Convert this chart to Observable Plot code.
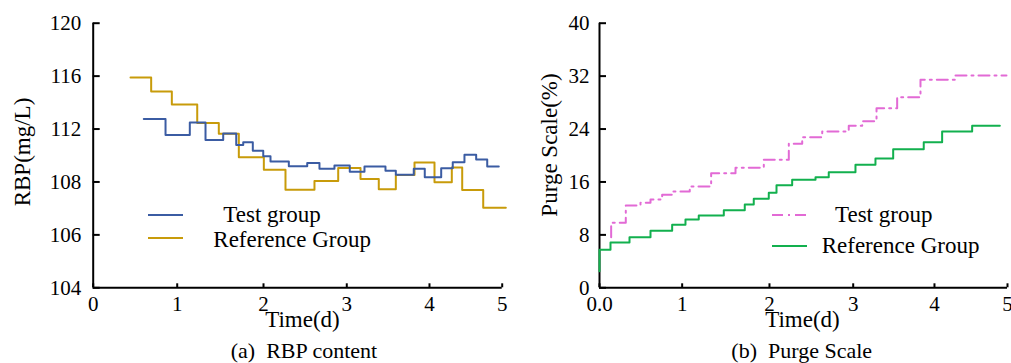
<!DOCTYPE html>
<html><head><meta charset="utf-8">
<script src="https://cdn.jsdelivr.net/npm/d3@7"></script>
<script src="https://cdn.jsdelivr.net/npm/@observablehq/plot@0.6"></script>
<style>
html,body{margin:0;padding:0;background:#fff;}
#root{position:relative;width:1011px;height:363px;overflow:hidden;font-family:"Liberation Serif","Times New Roman",serif;color:#000;}
.abs{position:absolute;white-space:nowrap;line-height:1;}
.chart{position:absolute;top:0;}
.chart svg{overflow:visible;}
</style></head><body><div id="root"></div>
<script>
// ---------- data ----------
const dayTicks = [0, 1, 2, 3, 4, 5];
const rbpDayLabels = ["0", "1", "2", "3", "4", "5"];
const purgeDayLabels = ["0.0", "1", "2", "3", "4", "5"];
const rbpTicks = [104, 106, 108, 112, 116, 120];
const purgeTicks = [0, 8, 16, 24, 32, 40];

// (a) RBP content — step breakpoints (days) and levels (mg/L)
const rbpTestTimes = [0.602, 0.861, 1.146, 1.328, 1.533, 1.684, 1.765, 1.876, 1.997, 2.084, 2.304, 2.525, 2.672, 2.852, 3.036, 3.214, 3.468, 3.593, 3.810, 3.943, 4.161, 4.320, 4.481, 4.642, 4.794, 4.953];
const rbpTestValues = [112.75, 111.55, 112.5, 111.17, 111.67, 110.8, 111.0, 110.36, 109.94, 109.55, 109.19, 109.44, 108.99, 109.24, 108.77, 109.17, 108.84, 108.54, 108.99, 108.35, 109.04, 109.49, 110.05, 109.7, 109.17];
const rbpRefTimes = [0.444, 0.690, 0.936, 1.232, 1.482, 1.714, 2.004, 2.264, 2.612, 2.897, 3.166, 3.387, 3.593, 3.819, 4.069, 4.307, 4.450, 4.739, 5.05];
const rbpRefValues = [115.9, 114.84, 113.85, 112.45, 111.65, 109.86, 108.93, 107.71, 108.07, 109.06, 108.23, 107.72, 108.53, 109.48, 107.99, 109.1, 107.7, 107.03];

// (b) Purge Scale — step breakpoints (days) and levels (%)
const purgeTestTimes = [0.141, 0.141, 0.318, 0.496, 0.617, 0.758, 0.879, 1.087, 1.332, 1.611, 1.935, 2.231, 2.391, 2.630, 2.947, 3.111, 3.287, 3.541, 3.828, 4.288, 4.986];
const purgeTestValues = [7.65, 9.83, 12.44, 12.85, 13.35, 14.06, 14.56, 15.31, 17.32, 18.14, 19.35, 21.77, 22.77, 23.63, 24.49, 25.19, 27.15, 28.81, 31.44, 32.09];
const purgeRefTimes = [0, 0, 0.133, 0.363, 0.617, 0.879, 1.038, 1.190, 1.477, 1.717, 1.820, 1.992, 2.084, 2.271, 2.550, 2.708, 3.028, 3.274, 3.492, 3.868, 4.105, 4.516, 4.895];
const purgeRefValues = [2.5, 5.74, 6.85, 7.65, 8.61, 9.52, 10.33, 10.93, 11.73, 12.59, 13.45, 14.36, 15.51, 16.33, 16.72, 17.48, 18.6, 19.55, 20.95, 22.0, 23.63, 24.49];

const seriesNames = ["Test group", "Reference Group"];
const captions = ["(a)\u00a0\u00a0RBP content", "(b)\u00a0\u00a0Purge Scale"];
const yTitles = ["RBP(mg/L)", "Purge Scale(%)"];
const xTitle = "Time(d)";

// ---------- helpers ----------
function steps(times, values) {
  const pts = values.map((v, i) => ({t: times[i], v}));
  pts.push({t: times[times.length - 1], v: values[values.length - 1]});
  return pts;
}
const FONT = '"Liberation Serif","Times New Roman",serif';
const C = {blue: "#3b5ca3", gold: "#c89b0a", pink: "#e26ad5", green: "#12b04e"};
const root = document.getElementById("root");

// the original axes are unevenly spaced: warp scales piecewise
const rbpWarpY = d3.scaleLinear().domain(rbpTicks).range([0, 1, 2, 3, 4, 5]);
const leftWarpX = d3.scaleLinear().domain(dayTicks).range([0, 1.027, 2.082, 3.100, 4.111, 5]);
const rightWarpX = d3.scaleLinear().domain(dayTicks).range([0, 1.013, 2.083, 3.109, 4.105, 5]);

function axes(yTicks, yMin, dayLabels, yPad) {
  return [
    Plot.axisY(yTicks, {anchor: "left", tickSize: -7, strokeWidth: 2, fill: "none", label: null}),
    Plot.axisY(yTicks, {anchor: "left", tickSize: 0, tickPadding: yPad, label: null, fontSize: 21, tickFormat: d => String(d)}),
    Plot.axisX(dayTicks, {anchor: "bottom", tickSize: -4, strokeWidth: 2, fill: "none", label: null}),
    Plot.axisX(dayTicks, {anchor: "bottom", tickSize: 0, tickPadding: 8, label: null, fontSize: 21, tickFormat: d => dayLabels[dayTicks.indexOf(d)]}),
    Plot.ruleX([0], {strokeWidth: 2}),
    Plot.ruleY([yMin], {strokeWidth: 2})
  ];
}

// ---------- (a) ----------
const left = Plot.plot({
  width: 505, height: 336,
  marginLeft: 92.7, marginRight: 3.3, marginTop: 22.7, marginBottom: 48.7,
  style: {fontFamily: FONT, fontSize: "21px", background: "transparent", color: "#000"},
  x: {type: "linear", domain: [0, 5], transform: leftWarpX},
  y: {type: "linear", domain: [0, 5], transform: rbpWarpY},
  marks: [
    ...axes(rbpTicks, 104, rbpDayLabels, 12),
    Plot.line(steps(rbpRefTimes, rbpRefValues), {x: "t", y: "v", curve: "step-after", stroke: C.gold, strokeWidth: 2}),
    Plot.line(steps(rbpTestTimes, rbpTestValues), {x: "t", y: "v", curve: "step-after", stroke: C.blue, strokeWidth: 2})
  ]
});
const lw = document.createElement("div"); lw.className = "chart"; lw.style.left = "0px"; lw.appendChild(left); root.appendChild(lw);

// ---------- (b) ----------
const right = Plot.plot({
  width: 506, height: 336,
  marginLeft: 94, marginRight: 4, marginTop: 22.7, marginBottom: 48.7,
  style: {fontFamily: FONT, fontSize: "21px", background: "transparent", color: "#000"},
  x: {type: "linear", domain: [0, 5], transform: rightWarpX},
  y: {domain: [0, 40]},
  marks: [
    ...axes(purgeTicks, 0, purgeDayLabels, 10),
    Plot.line(steps(purgeRefTimes, purgeRefValues), {x: "t", y: "v", curve: "step-after", stroke: C.green, strokeWidth: 2}),
    Plot.line(steps(purgeTestTimes, purgeTestValues), {x: "t", y: "v", curve: "step-after", stroke: C.pink, strokeWidth: 2, strokeDasharray: "11,5,2,5"})
  ]
});
const rw = document.createElement("div"); rw.className = "chart"; rw.style.left = "505px"; rw.appendChild(right); root.appendChild(rw);

// ---------- text overlays ----------
function addText(txt, x, top, size, opts = {}) {
  const d = document.createElement("div");
  d.className = "abs"; d.textContent = txt;
  d.style.left = x + "px"; d.style.top = top + "px"; d.style.fontSize = size + "px";
  if (opts.center) d.style.transform = "translateX(-50%)";
  if (opts.rotate) { d.style.transform = "translate(-50%,-50%) rotate(-90deg)"; }
  root.appendChild(d);
  return d;
}
function addSwatch(x1, x2, y, color, dash) {
  const ns = "http://www.w3.org/2000/svg";
  const s = document.createElementNS(ns, "svg");
  s.setAttribute("width", x2 - x1); s.setAttribute("height", 4);
  s.style.position = "absolute"; s.style.left = x1 + "px"; s.style.top = (y - 2) + "px";
  const l = document.createElementNS(ns, "line");
  l.setAttribute("x1", 0); l.setAttribute("x2", x2 - x1); l.setAttribute("y1", 2); l.setAttribute("y2", 2);
  l.setAttribute("stroke", color); l.setAttribute("stroke-width", 2);
  if (dash) l.setAttribute("stroke-dasharray", dash);
  s.appendChild(l); root.appendChild(s);
}

// axis titles
addText(yTitles[0], 22, 152, 23, {rotate: true});
addText(yTitles[1], 549, 145, 23, {rotate: true});
addText(xTitle, 302.5, 307.6, 23, {center: true});
addText(xTitle, 802.5, 307.6, 23, {center: true});
// captions
addText(captions[0], 304, 340, 22, {center: true});
addText(captions[1], 801.7, 340, 22, {center: true});
// legends
addSwatch(148, 183, 215, C.blue);
addSwatch(148, 183, 238, C.gold);
addText(seriesNames[0], 223.3, 203, 23);
addText(seriesNames[1], 213.3, 228, 23);
addSwatch(772, 806, 215, C.pink, "11,5,2,5");
addSwatch(772, 807, 246, C.green);
addText(seriesNames[0], 835, 203, 23);
addText(seriesNames[1], 821.7, 234, 23);
</script></body></html>
